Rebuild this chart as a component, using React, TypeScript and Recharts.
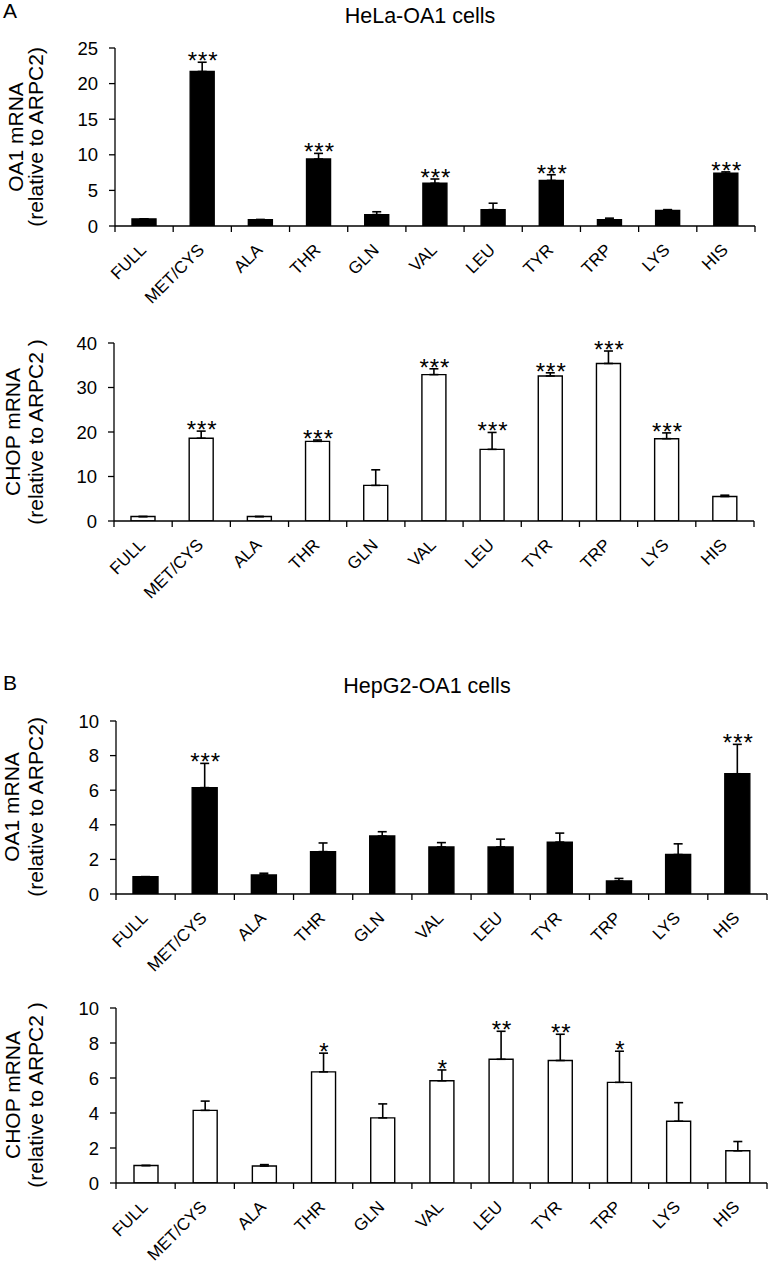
import { BarChart, Bar, XAxis, YAxis, ErrorBar, LabelList } from "recharts";

const FONT = "'Liberation Sans', Arial, sans-serif";
const CATEGORIES = ["FULL", "MET/CYS", "ALA", "THR", "GLN", "VAL", "LEU", "TYR", "TRP", "LYS", "HIS"];

// HeLa-OA1, OA1 mRNA
const HELA_OA1 = [1.0, 21.7, 0.9, 9.4, 1.6, 6.0, 2.3, 6.4, 0.9, 2.2, 7.4];
const HELA_OA1_ERR = [0, 1.3, 0, 0.8, 0.4, 0.6, 0.9, 0.8, 0.2, 0.1, 0.2];
const HELA_OA1_SIG = ["", "***", "", "***", "", "***", "", "***", "", "", "***"];

// HeLa-OA1, CHOP mRNA
const HELA_CHOP = [1.0, 18.6, 1.0, 17.9, 8.0, 32.9, 16.1, 32.6, 35.4, 18.5, 5.5];
const HELA_CHOP_ERR = [0, 1.6, 0, 0.3, 3.5, 1.3, 3.8, 0.7, 2.8, 1.3, 0.3];
const HELA_CHOP_SIG = ["", "***", "", "***", "", "***", "***", "***", "***", "***", ""];

// HepG2-OA1, OA1 mRNA
const HEPG2_OA1 = [1.0, 6.15, 1.1, 2.45, 3.35, 2.72, 2.72, 3.0, 0.75, 2.28, 6.95];
const HEPG2_OA1_ERR = [0, 1.4, 0.1, 0.5, 0.25, 0.25, 0.45, 0.52, 0.15, 0.62, 1.7];
const HEPG2_OA1_SIG = ["", "***", "", "", "", "", "", "", "", "", "***"];

// HepG2-OA1, CHOP mRNA
const HEPG2_CHOP = [1.0, 4.15, 0.97, 6.35, 3.72, 5.84, 7.07, 7.0, 5.75, 3.53, 1.84];
const HEPG2_CHOP_ERR = [0, 0.53, 0.08, 1.07, 0.8, 0.62, 1.6, 1.5, 1.78, 1.06, 0.53];
const HEPG2_CHOP_SIG = ["", "", "", "*", "", "*", "**", "**", "*", "", ""];

const X_H = 90;

function buildData(values: number[], errs: number[], sigs: string[]) {
  return CATEGORIES.map((cat, i) => ({ cat, v: values[i], err: [0, errs[i]], sig: sigs[i] }));
}

type PanelProps = {
  top: number; mTop: number; plotH: number; left: number; right: number;
  yMax: number; yTicks: number[]; values: number[]; errs: number[]; sigs: string[];
  fill: string; barSize: number;
};

function Panel(p: PanelProps) {
  const data = buildData(p.values, p.errs, p.sigs);
  const height = p.mTop + p.plotH + X_H;
  const pxPer = p.plotH / p.yMax;
  const plotW = 768 - p.left - p.right;
  const band = plotW / CATEGORIES.length;
  const baseY = p.mTop + p.plotH;

  // tick marks go on the category boundaries, labels slanted at 45 degrees
  const tick = (t: any) => {
    const { x, payload, index } = t;
    return (
      <g>
        <line x1={x - band / 2} x2={x - band / 2} y1={baseY} y2={baseY + 6} stroke="#000" strokeWidth={1.3} />
        {index === CATEGORIES.length - 1 && (
          <line x1={x + band / 2} x2={x + band / 2} y1={baseY} y2={baseY + 6} stroke="#000" strokeWidth={1.3} />
        )}
        <g transform={`translate(${x + 3},${baseY + 25}) rotate(-45)`}>
          <text x={0} y={0} textAnchor="end" fontSize={17} fontFamily={FONT} fill="#000">
            {payload.value}
          </text>
        </g>
      </g>
    );
  };

  const stars = (l: any) => {
    const { x, y, width, index, value } = l;
    if (!value) return null;
    const errTop = y - p.errs[index] * pxPer;
    return (
      <text x={x + width / 2 + 1} y={errTop + 7} textAnchor="middle" fontSize={24}
        letterSpacing={1} fontFamily={FONT} fill="#000">
        {value}
      </text>
    );
  };

  return (
    <div style={{ position: "absolute", left: 0, top: p.top }}>
      <BarChart width={768} height={height} data={data}
        margin={{ top: p.mTop, right: p.right, bottom: 0, left: 0 }}>
        <XAxis dataKey="cat" height={X_H} interval={0} tickLine={false} tickSize={0} tickMargin={0}
          axisLine={{ stroke: "#000", strokeWidth: 1.3 }} tick={tick} />
        <YAxis width={p.left} domain={[0, p.yMax]} ticks={p.yTicks} allowDataOverflow
          tickSize={6} tickMargin={11}
          axisLine={{ stroke: "#000", strokeWidth: 1.3 }} tickLine={{ stroke: "#000", strokeWidth: 1.3 }}
          tick={{ fontSize: 18.5, fill: "#000", fontFamily: FONT }} />
        <Bar dataKey="v" fill={p.fill} stroke="#000" strokeWidth={1.4} barSize={p.barSize} isAnimationActive={false}>
          <ErrorBar dataKey="err" direction="y" width={4.5} stroke="#000" strokeWidth={1.6} />
          <LabelList dataKey="sig" content={stars} />
        </Bar>
      </BarChart>
    </div>
  );
}

function YLabel({ cy, x1, x2, l1, l2 }: { cy: number; x1: number; x2: number; l1: string; l2: string }) {
  return (
    <g fontFamily={FONT} fontSize={21} fill="#000">
      <text transform={`translate(${x1},${cy}) rotate(-90)`} textAnchor="middle">{l1}</text>
      <text transform={`translate(${x2},${cy}) rotate(-90)`} textAnchor="middle">{l2}</text>
    </g>
  );
}

export default function App() {
  return (
    <div style={{ position: "absolute", left: 0, top: 0, width: 768, height: 1265, background: "#fff", overflow: "hidden" }}>
      <Panel top={0} mTop={48} plotH={178} left={115} right={13} yMax={25} yTicks={[0, 5, 10, 15, 20, 25]}
        values={HELA_OA1} errs={HELA_OA1_ERR} sigs={HELA_OA1_SIG} fill="#000" barSize={24} />
      <Panel top={306} mTop={37} plotH={178} left={114} right={14} yMax={40} yTicks={[0, 10, 20, 30, 40]}
        values={HELA_CHOP} errs={HELA_CHOP_ERR} sigs={HELA_CHOP_SIG} fill="#fff" barSize={24} />
      <Panel top={650} mTop={71} plotH={173} left={116} right={1} yMax={10} yTicks={[0, 2, 4, 6, 8, 10]}
        values={HEPG2_OA1} errs={HEPG2_OA1_ERR} sigs={HEPG2_OA1_SIG} fill="#000" barSize={25} />
      <Panel top={974} mTop={34} plotH={175} left={116} right={1} yMax={10} yTicks={[0, 2, 4, 6, 8, 10]}
        values={HEPG2_CHOP} errs={HEPG2_CHOP_ERR} sigs={HEPG2_CHOP_SIG} fill="#fff" barSize={24} />
      <svg width={768} height={1265} style={{ position: "absolute", left: 0, top: 0, pointerEvents: "none" }}>
        <text x={3} y={18} fontFamily={FONT} fontSize={21} fill="#000">A</text>
        <text x={420} y={23} textAnchor="middle" fontFamily={FONT} fontSize={21.5} fill="#000">HeLa-OA1 cells</text>
        <text x={3} y={690} fontFamily={FONT} fontSize={21} fill="#000">B</text>
        <text x={427} y={693} textAnchor="middle" fontFamily={FONT} fontSize={21.5} fill="#000">HepG2-OA1 cells</text>
        <YLabel cy={137} x1={23} x2={43} l1="OA1 mRNA" l2="(relative to ARPC2)" />
        <YLabel cy={432} x1={20} x2={43} l1="CHOP mRNA" l2="(relative to ARPC2 )" />
        <YLabel cy={807} x1={19} x2={43} l1="OA1 mRNA" l2="(relative to ARPC2)" />
        <YLabel cy={1095} x1={20} x2={43} l1="CHOP mRNA" l2="(relative to ARPC2 )" />
      </svg>
    </div>
  );
}
